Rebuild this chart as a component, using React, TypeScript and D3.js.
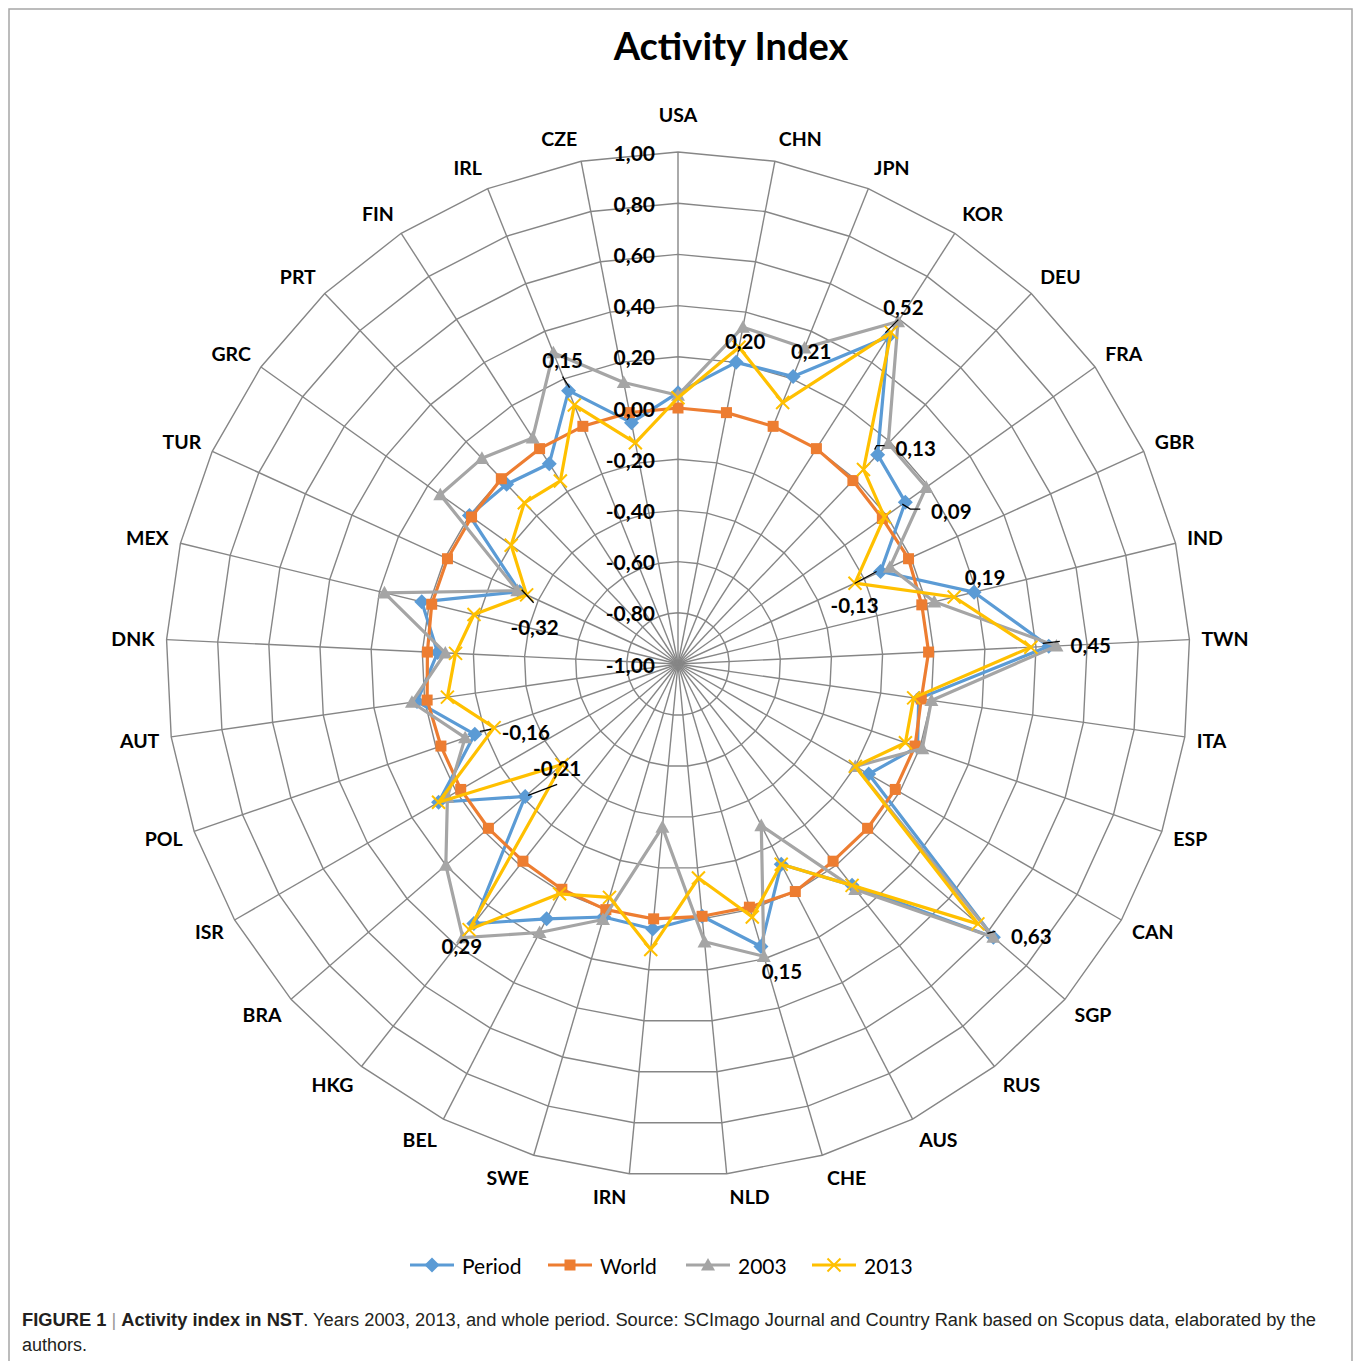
import React from 'react';
import * as d3 from 'd3';

const categories = ["USA","CHN","JPN","KOR","DEU","FRA","GBR","IND","TWN","ITA","ESP","CAN","SGP","RUS","AUS","CHE","NLD","IRN","SWE","BEL","HKG","BRA","ISR","POL","AUT","DNK","MEX","TUR","GRC","PRT","FIN","IRL","CZE"];

const periodValues = [0.06,0.20,0.21,0.52,0.13,0.09,-0.13,0.19,0.45,-0.05,-0.01,-0.14,0.63,0.10,-0.12,0.15,-0.01,0.04,0.03,0.12,0.29,-0.21,0.08,-0.16,0.03,-0.06,0.03,-0.32,0.00,-0.03,-0.07,0.15,-0.04];
const worldValues = [0.00,0.00,0.00,0.00,-0.01,-0.02,-0.01,-0.02,-0.02,-0.04,-0.02,-0.02,-0.02,-0.02,0.00,-0.01,-0.01,0.00,0.00,-0.01,-0.02,-0.02,-0.02,-0.02,-0.01,-0.02,-0.01,-0.01,-0.01,0.00,0.00,0.00,0.00];
const values2003 = [0.05,0.34,0.33,0.59,0.19,0.19,-0.09,0.03,0.48,0.00,0.01,-0.20,0.63,0.12,-0.29,0.19,0.09,-0.36,0.04,0.18,0.36,0.20,0.04,-0.12,0.05,-0.09,0.18,-0.31,0.14,0.11,0.05,0.31,0.12];
const values2013 = [0.04,0.26,0.10,0.54,0.05,-0.01,-0.24,0.11,0.38,-0.07,-0.06,-0.20,0.55,0.10,-0.12,0.03,-0.16,0.12,-0.05,0.01,0.32,-0.40,0.08,-0.24,-0.09,-0.13,-0.18,-0.35,-0.20,-0.13,-0.15,0.09,-0.12];

const tickValues = [-1.0,-0.8,-0.6,-0.4,-0.2,0.0,0.2,0.4,0.6,0.8,1.0];
const seriesNames = ["Period","World","2003","2013"];
const periodLabelIndex = [1,2,3,4,5,6,7,8,12,15,20,21,23,27,31];

// layout: label centre offset and leader polyline relative to the data point
const labelLayout: Record<number, { dx: number; dy: number; leader?: number[][] }> = {
  1: { dx: 9, dy: -21 },
  2: { dx: 18, dy: -25 },
  3: { dx: 15, dy: -30, leader: [[-3, -4], [10, -17]] },
  4: { dx: 38, dy: -7, leader: [[-3, -5], [-1, -9], [7, -9]] },
  5: { dx: 46, dy: 9, leader: [[-3, 2], [5, 7], [15, 7]] },
  6: { dx: -26, dy: 34, leader: [[-4, 0], [-26, 12]] },
  7: { dx: 11, dy: -15 },
  8: { dx: 42, dy: -1, leader: [[-6, -3], [11, -5]] },
  12: { dx: 38, dy: -1, leader: [[-6, -4], [2, -6]] },
  15: { dx: 21, dy: 25 },
  20: { dx: -12, dy: 22 },
  21: { dx: 32, dy: -28, leader: [[3, -1], [32, -12]] },
  23: { dx: 51, dy: -2, leader: [[5, -3], [16, -5]] },
  27: { dx: 15, dy: 35, leader: [[2, -2], [14, 11]] },
  31: { dx: -6, dy: -31, leader: [[1, -3], [-6, -14]] },
};

const W = 1359, H = 1361, CX = 678, CY = 664, R = 512;
const FONT = "Lato, 'Open Sans', sans-serif";
const colors = ["#5B9BD5", "#ED7D31", "#A5A5A5", "#FFC000"];
const gridColor = "#868686";

const fmt = (v: number) => d3.format(".2f")(v).replace(".", ",").replace("\u2212", "-");

function Marker({ kind, x, y, color }: { kind: number; x: number; y: number; color: string }) {
  if (kind === 0) {
    const s = 7.5;
    return <path d={`M${x},${y - s}L${x + s},${y}L${x},${y + s}L${x - s},${y}Z`} fill={color} />;
  }
  if (kind === 1) {
    const s = 5.5;
    return <rect x={x - s} y={y - s} width={2 * s} height={2 * s} fill={color} />;
  }
  if (kind === 2) {
    const s = 7;
    return <path d={`M${x},${y - s}L${x + s},${y + s * 0.8}L${x - s},${y + s * 0.8}Z`} fill={color} />;
  }
  const s = 6.5;
  return (
    <path d={`M${x - s},${y - s}L${x + s},${y + s}M${x - s},${y + s}L${x + s},${y - s}`} stroke={color} strokeWidth={2} fill="none" />
  );
}

export default function App() {
  const n = categories.length;
  const rScale = d3.scaleLinear().domain([-1, 1]).range([0, R]);
  const angle = d3.scaleLinear().domain([0, n]).range([0, 2 * Math.PI]);
  const pt = (i: number, v: number): [number, number] => {
    const a = angle(i);
    const r = rScale(v);
    return [CX + r * Math.sin(a), CY - r * Math.cos(a)];
  };
  const radial = d3
    .lineRadial<number>()
    .angle((_d, i) => angle(i))
    .radius((d) => rScale(d))
    .curve(d3.curveLinearClosed);

  const allSeries = [periodValues, worldValues, values2003, values2013];

  const legendX = [410, 548, 686, 812];
  const legendY = 1265;

  return (
    <svg width={W} height={H} style={{ position: "absolute", left: 0, top: 0, background: "#fff" }} fontFamily={FONT}>
      <rect x={0} y={0} width={W} height={H} fill="#fff" />
      <rect x={9} y={9} width={1343} height={1400} fill="none" stroke="#a6a6a6" strokeWidth={1.5} />

      <text x={731} y={45} textAnchor="middle" dominantBaseline="central" fontSize={38} fontWeight={700} fill="#000">
        Activity Index
      </text>

      <g transform={`translate(${CX},${CY})`}>
        {tickValues.slice(1).map((v) => (
          <path key={v} d={radial(new Array(n).fill(v)) || ""} fill="none" stroke={gridColor} strokeWidth={1.4} />
        ))}
      </g>
      {categories.map((c, i) => {
        const [x, y] = pt(i, 1);
        return <line key={c} x1={CX} y1={CY} x2={x} y2={y} stroke={gridColor} strokeWidth={1.4} />;
      })}

      {categories.map((c, i) => {
        const a = angle(i);
        const s = Math.sin(a), co = Math.cos(a);
        const rr = R + 10;
        const x = CX + rr * s;
        let y = CY - rr * co;
        let anchor = "middle";
        if (s > 0.05) anchor = "start";
        else if (s < -0.05) anchor = "end";
        if (anchor === "middle") y -= co * 28;
        else y -= co * 13;
        return (
          <text key={c} x={x + (anchor === "start" ? 2 : anchor === "end" ? -2 : 0)} y={y} textAnchor={anchor} dominantBaseline="central" fontSize={19.5} fontWeight={700} fill="#000">
            {c}
          </text>
        );
      })}

      {allSeries.map((vals, si) => (
        <g key={si}>
          <path
            transform={`translate(${CX},${CY})`}
            d={radial(vals) || ""}
            fill="none"
            stroke={colors[si]}
            strokeWidth={3.2}
            strokeLinejoin="round"
          />
          {vals.map((v, i) => {
            const [x, y] = pt(i, v);
            return <Marker key={i} kind={si} x={x} y={y} color={colors[si]} />;
          })}
        </g>
      ))}

      {tickValues.map((v) => (
        <text key={v} x={CX - 23} y={CY - rScale(v)} textAnchor="end" dominantBaseline="central" fontSize={21} fontWeight={700} fill="#000">
          {fmt(v)}
        </text>
      ))}

      {periodLabelIndex.map((i) => {
        const [x, y] = pt(i, periodValues[i]);
        const l = labelLayout[i];
        return (
          <g key={i}>
            {l.leader && (
              <polyline
                points={l.leader.map(([a, b]) => `${x + a},${y + b}`).join(" ")}
                fill="none"
                stroke="#000"
                strokeWidth={1.3}
              />
            )}
            <text x={x + l.dx} y={y + l.dy} textAnchor="middle" dominantBaseline="central" fontSize={20.5} fontWeight={700} fill="#000">
              {fmt(periodValues[i])}
            </text>
          </g>
        );
      })}

      {seriesNames.map((name, si) => (
        <g key={name}>
          <line x1={legendX[si]} y1={legendY} x2={legendX[si] + 44} y2={legendY} stroke={colors[si]} strokeWidth={3.2} />
          <Marker kind={si} x={legendX[si] + 22} y={legendY} color={colors[si]} />
          <text x={legendX[si] + 52} y={legendY} dominantBaseline="central" fontSize={21} fill="#000">
            {name}
          </text>
        </g>
      ))}

      <text x={22} y={1326} fontFamily="'Liberation Sans', Arial, sans-serif" fontSize={18} fill="#231f20" textLength={1294} lengthAdjust="spacingAndGlyphs">
        <tspan fontWeight={700}>FIGURE 1</tspan>
        <tspan fill="#999"> | </tspan>
        <tspan fontWeight={700}>Activity index in NST</tspan>
        <tspan>. Years 2003, 2013, and whole period. Source: SCImago Journal and Country Rank based on Scopus data, elaborated by the</tspan>
      </text>
      <text x={22} y={1351} fontFamily="'Liberation Sans', Arial, sans-serif" fontSize={18} fill="#231f20">
        authors.
      </text>
    </svg>
  );
}
